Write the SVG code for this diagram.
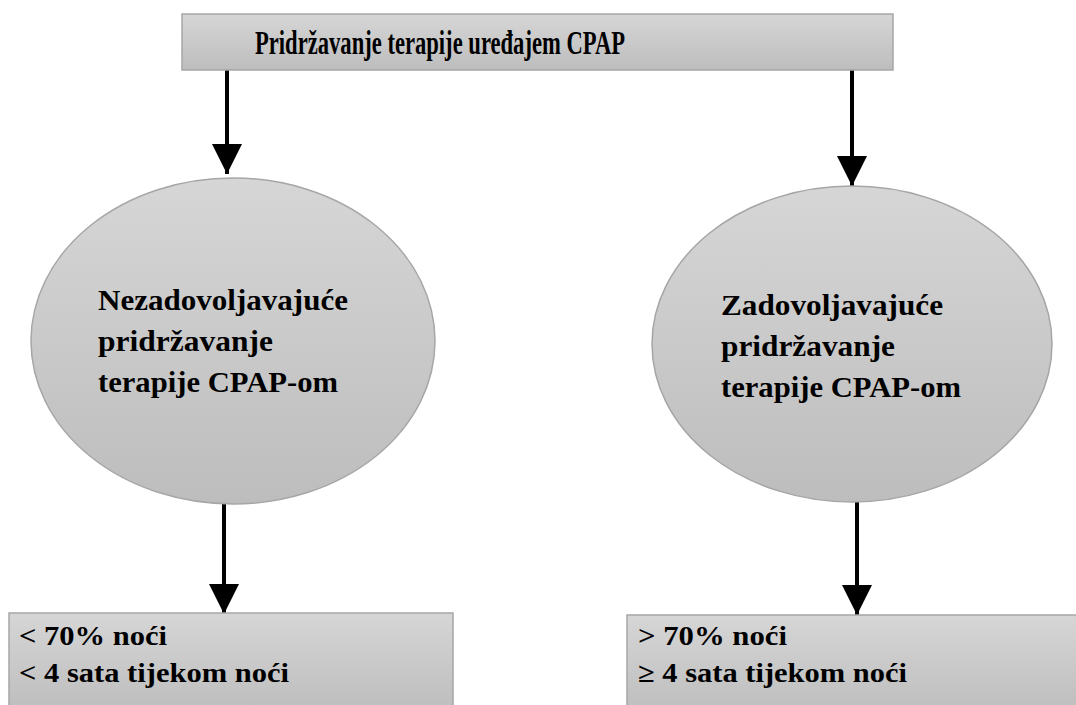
<svg xmlns="http://www.w3.org/2000/svg" width="1076" height="705" viewBox="0 0 1076 705">
  <defs>
    <linearGradient id="grey" x1="0" y1="0" x2="0" y2="1">
      <stop offset="0" stop-color="#d6d6d6"/>
      <stop offset="1" stop-color="#bdbdbd"/>
    </linearGradient>
    <marker id="head" markerUnits="userSpaceOnUse" markerWidth="30" markerHeight="30" refX="30" refY="15" orient="auto">
      <path d="M0,0 L30,15 L0,30 Z" fill="#000"/>
    </marker>
  </defs>
  <style>
    .shape { fill: url(#grey); stroke: #a6a6a6; stroke-width: 1.5; }
    .lbl { font-family: "Liberation Serif", "Times New Roman", serif; font-weight: bold; fill: #000; }
    .conn { stroke: #000; stroke-width: 4; fill: none; marker-end: url(#head); }
  </style>
  <rect width="1076" height="705" fill="#fff"/>

  <g id="connectors">
    <line class="conn" x1="227" y1="70" x2="227" y2="174"/>
    <line class="conn" x1="852" y1="70" x2="852" y2="186"/>
    <line class="conn" x1="224" y1="504" x2="224" y2="614"/>
    <line class="conn" x1="857" y1="502" x2="857" y2="615"/>
  </g>

  <g id="top">
    <rect class="shape" x="182" y="14" width="711" height="56"/>
    <text class="lbl" x="255" y="54" font-size="33" textLength="370" lengthAdjust="spacingAndGlyphs">Pridržavanje terapije uređajem CPAP</text>
  </g>

  <g id="unsatisfactory">
    <ellipse class="shape" cx="233" cy="341" rx="202" ry="163"/>
    <text class="lbl" font-size="30">
      <tspan x="98" y="310" textLength="250" lengthAdjust="spacingAndGlyphs">Nezadovoljavajuće</tspan>
      <tspan x="98" y="351" textLength="175" lengthAdjust="spacingAndGlyphs">pridržavanje</tspan>
      <tspan x="98" y="392" textLength="240" lengthAdjust="spacingAndGlyphs">terapije CPAP-om</tspan>
    </text>
  </g>

  <g id="satisfactory">
    <ellipse class="shape" cx="852" cy="344" rx="200" ry="158"/>
    <text class="lbl" font-size="30">
      <tspan x="721" y="315" textLength="222" lengthAdjust="spacingAndGlyphs">Zadovoljavajuće</tspan>
      <tspan x="721" y="356" textLength="174" lengthAdjust="spacingAndGlyphs">pridržavanje</tspan>
      <tspan x="721" y="397" textLength="240" lengthAdjust="spacingAndGlyphs">terapije CPAP-om</tspan>
    </text>
  </g>

  <g id="below">
    <rect class="shape" x="9" y="613" width="444" height="100"/>
    <text class="lbl" font-size="27">
      <tspan x="19" y="645" textLength="148" lengthAdjust="spacingAndGlyphs">&lt; 70% noći</tspan>
      <tspan x="19" y="682" textLength="270" lengthAdjust="spacingAndGlyphs">&lt; 4 sata tijekom noći</tspan>
    </text>
  </g>

  <g id="above">
    <rect class="shape" x="627" y="615" width="460" height="100"/>
    <text class="lbl" font-size="27">
      <tspan x="638" y="645" textLength="149" lengthAdjust="spacingAndGlyphs">&gt; 70% noći</tspan>
      <tspan x="638" y="682" textLength="269" lengthAdjust="spacingAndGlyphs">≥ 4 sata tijekom noći</tspan>
    </text>
  </g>
</svg>
